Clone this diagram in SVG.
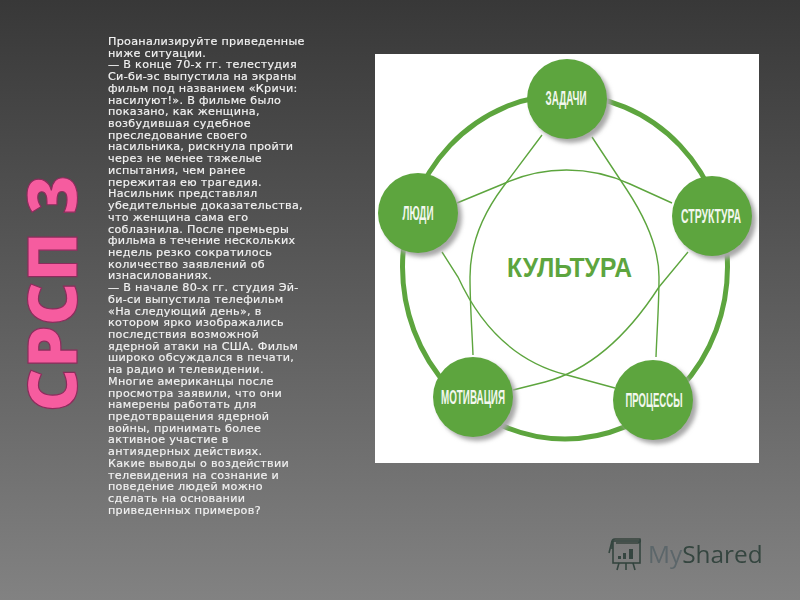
<svg xmlns="http://www.w3.org/2000/svg" width="800" height="600" viewBox="0 0 800 600">
<defs>
<linearGradient id="bg" x1="0" y1="0" x2="0" y2="1"><stop offset="0" stop-color="#383838"/><stop offset="0.5" stop-color="#5c5c5c"/><stop offset="1" stop-color="#828282"/></linearGradient>
<filter id="soft" x="-20%" y="-20%" width="140%" height="140%"><feGaussianBlur stdDeviation="2"/></filter>
<filter id="glow" x="-10%" y="-10%" width="120%" height="120%"><feGaussianBlur stdDeviation="0.3"/></filter>
</defs>
<style>
.body{font-family:"DejaVu Sans","Liberation Sans",sans-serif;font-size:10px;letter-spacing:0.25px;fill:#f2f2f2;stroke:#f2f2f2;stroke-width:0.15}
.node{fill:#5da53e}
.shadow{fill:#a8a8a8;filter:url(#soft)}
.lbl{font-family:"Liberation Sans",sans-serif;font-weight:700;font-size:20px;fill:#f2f7ee;text-anchor:middle}
.wire{fill:none;stroke:#5da53e;stroke-width:1.4}
.ring{fill:none;stroke:#5da53e;stroke-width:5}
</style>
<rect width="800" height="600" fill="url(#bg)"/>
<text transform="translate(77,412) rotate(-90)" font-family="'Open Sans','Liberation Sans',sans-serif" font-weight="800" font-size="69" fill="#f65c9f" stroke="#8c2c5c" stroke-width="1.2" textLength="237" lengthAdjust="spacingAndGlyphs">СРСП 3</text>
<text class="body" transform="translate(108,45) scale(1.12,1)" x="0" y="0" filter="url(#glow)"><tspan x="0">Проанализируйте приведенные</tspan><tspan x="0" dy="11.72">ниже ситуации.</tspan><tspan x="0" dy="11.72">— В конце 70-х гг. телестудия</tspan><tspan x="0" dy="11.72">Си-би-эс выпустила на экраны</tspan><tspan x="0" dy="11.72">фильм под названием «Кричи:</tspan><tspan x="0" dy="11.72">насилуют!». В фильме было</tspan><tspan x="0" dy="11.72">показано, как женщина,</tspan><tspan x="0" dy="11.72">возбудившая судебное</tspan><tspan x="0" dy="11.72">преследование своего</tspan><tspan x="0" dy="11.72">насильника, рискнула пройти</tspan><tspan x="0" dy="11.72">через не менее тяжелые</tspan><tspan x="0" dy="11.72">испытания, чем ранее</tspan><tspan x="0" dy="11.72">пережитая ею трагедия.</tspan><tspan x="0" dy="11.72">Насильник представлял</tspan><tspan x="0" dy="11.72">убедительные доказательства,</tspan><tspan x="0" dy="11.72">что женщина сама его</tspan><tspan x="0" dy="11.72">соблазнила. После премьеры</tspan><tspan x="0" dy="11.72">фильма в течение нескольких</tspan><tspan x="0" dy="11.72">недель резко сократилось</tspan><tspan x="0" dy="11.72">количество заявлений об</tspan><tspan x="0" dy="11.72">изнасилованиях.</tspan><tspan x="0" dy="11.72">— В начале 80-х гг. студия Эй-</tspan><tspan x="0" dy="11.72">би-си выпустила телефильм</tspan><tspan x="0" dy="11.72">«На следующий день», в</tspan><tspan x="0" dy="11.72">котором ярко изображались</tspan><tspan x="0" dy="11.72">последствия возможной</tspan><tspan x="0" dy="11.72">ядерной атаки на США. Фильм</tspan><tspan x="0" dy="11.72">широко обсуждался в печати,</tspan><tspan x="0" dy="11.72">на радио и телевидении.</tspan><tspan x="0" dy="11.72">Многие американцы после</tspan><tspan x="0" dy="11.72">просмотра заявили, что они</tspan><tspan x="0" dy="11.72">намерены работать для</tspan><tspan x="0" dy="11.72">предотвращения ядерной</tspan><tspan x="0" dy="11.72">войны, принимать более</tspan><tspan x="0" dy="11.72">активное участие в</tspan><tspan x="0" dy="11.72">антиядерных действиях.</tspan><tspan x="0" dy="11.72">Какие выводы о воздействии</tspan><tspan x="0" dy="11.72">телевидения на сознание и</tspan><tspan x="0" dy="11.72">поведение людей можно</tspan><tspan x="0" dy="11.72">сделать на основании</tspan><tspan x="0" dy="11.72">приведенных примеров?</tspan></text>
<rect x="375" y="54" width="384" height="409" fill="#fff"/>
<g id="connectors">
<ellipse class="ring" cx="565" cy="267" rx="162.5" ry="172"/>
<path class="wire" d="M457,203 L503,184 A151,151 0 0 1 630,184 L672,203"/>
<path class="wire" d="M542,135 L503,187 C482,215 470,245 470,277 C470,305 472,330 473,355"/>
<path class="wire" d="M592,137 L627,190 C648,222 659,250 659,277 C659,305 657,330 656,357"/>
<path class="wire" d="M513,390 L545,382 C590,370 628,335 659,287 L688,252"/>
<path class="wire" d="M442,252 L458,277 C480,325 515,362 567,375 L615,388"/>
</g>
<g id="n-zadachi"><circle class="shadow" cx="571" cy="103" r="40"/><circle class="node" cx="567" cy="99" r="40"/><text class="lbl" x="566" y="105" textLength="41" lengthAdjust="spacingAndGlyphs">ЗАДАЧИ</text></g>
<g id="n-struktura"><circle class="shadow" cx="716" cy="220" r="40"/><circle class="node" cx="712" cy="216" r="40"/><text class="lbl" x="711" y="223" textLength="60" lengthAdjust="spacingAndGlyphs">СТРУКТУРА</text></g>
<g id="n-processy"><circle class="shadow" cx="657" cy="404" r="40"/><circle class="node" cx="653" cy="400" r="40"/><text class="lbl" x="654" y="407" textLength="57" lengthAdjust="spacingAndGlyphs">ПРОЦЕССЫ</text></g>
<g id="n-motivaciya"><circle class="shadow" cx="477" cy="401" r="40"/><circle class="node" cx="473" cy="397" r="40"/><text class="lbl" x="473" y="404" textLength="64" lengthAdjust="spacingAndGlyphs">МОТИВАЦИЯ</text></g>
<g id="n-lyudi"><circle class="shadow" cx="422" cy="217" r="40"/><circle class="node" cx="418" cy="213" r="40"/><text class="lbl" x="418" y="220" textLength="31" lengthAdjust="spacingAndGlyphs">ЛЮДИ</text></g>
<g id="n-kultura"><text x="569.5" y="277" font-family="'Liberation Sans',sans-serif" font-weight="700" font-size="28" fill="#5da53e" text-anchor="middle" textLength="125" lengthAdjust="spacingAndGlyphs">КУЛЬТУРА</text></g>
<g id="logo" filter="url(#glow)">
<g fill="none" stroke="#34453f" stroke-width="1.6">
<rect x="613" y="541" width="27" height="22"/>
<path d="M612,549 V542 Q612,539 615,539 H640 Q641,542 638,543 H616"/>
<path d="M609,553 L612,541"/>
<path d="M619,563 L617,570 M626,563 V570 M633,563 L635,570"/>
</g>
<g fill="#34453f"><rect x="618" y="556" width="3" height="3"/><rect x="623" y="553" width="3" height="6"/><rect x="629" y="549" width="4" height="10"/></g>
<text x="648" y="563" font-family="'Open Sans','Liberation Sans',sans-serif" font-size="24.4"><tspan fill="#5c666a">My</tspan><tspan fill="#34453f">Shared</tspan></text>
</g>
</svg>
